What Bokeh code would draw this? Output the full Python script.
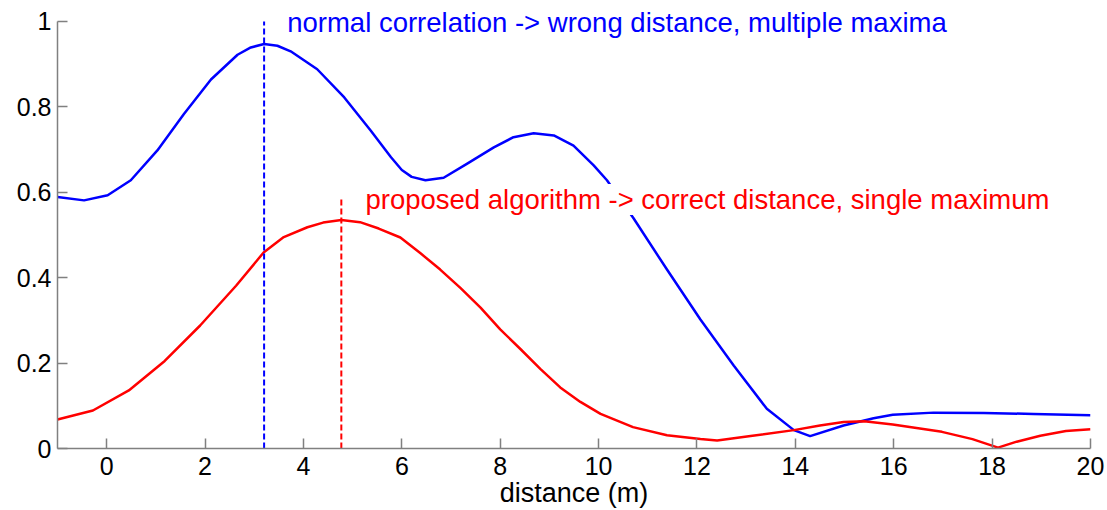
from bokeh.plotting import figure
from bokeh.embed import file_html
from bokeh.resources import INLINE
from bokeh.models import Label, FixedTicker, NumeralTickFormatter, Range1d

# Blue: normal correlation
blue_x = [-1.0, -0.46, 0.02, 0.49, 1.03, 1.57, 2.12, 2.66, 2.93, 3.2, 3.47, 3.74, 4.28,
          4.83, 5.37, 5.78, 6.0, 6.2, 6.48, 6.85, 7.33, 7.87, 8.27, 8.68, 9.09, 9.49, 9.9,
          10.17, 10.71, 11.39, 12.07, 12.75, 13.42, 13.97, 14.3, 14.98, 15.59, 15.98,
          16.81, 17.83, 18.84, 20.0]
blue_y = [0.589, 0.581, 0.593, 0.628, 0.698, 0.783, 0.864, 0.922, 0.939, 0.947, 0.943,
          0.930, 0.888, 0.822, 0.744, 0.682, 0.652, 0.636, 0.628, 0.634, 0.667, 0.705,
          0.729, 0.738, 0.733, 0.709, 0.663, 0.628, 0.539, 0.419, 0.302, 0.194, 0.093,
          0.043, 0.029, 0.054, 0.071, 0.079, 0.084, 0.083, 0.081, 0.078]

# Red: proposed algorithm
red_x = [-1.0, -0.28, 0.45, 1.18, 1.9, 2.63, 3.19, 3.6, 4.08, 4.4, 4.77, 5.15, 5.53,
         5.97, 6.38, 6.78, 7.19, 7.6, 8.0, 8.41, 8.82, 9.22, 9.63, 10.04, 10.7, 11.39,
         12.07, 12.41, 13.09, 13.97, 14.5, 14.98, 15.4, 15.98, 16.98, 17.6, 18.12, 18.5,
         18.98, 19.5, 20.0]
red_y = [0.068, 0.089, 0.136, 0.205, 0.288, 0.381, 0.459, 0.495, 0.518, 0.529, 0.535,
         0.530, 0.515, 0.494, 0.457, 0.419, 0.376, 0.330, 0.279, 0.233, 0.186, 0.143,
         0.109, 0.081, 0.050, 0.031, 0.022, 0.019, 0.029, 0.043, 0.054, 0.062, 0.064,
         0.056, 0.039, 0.022, 0.002, 0.016, 0.030, 0.041, 0.045]

# Maxima markers
blue_peak_x = 3.2
blue_peak_top = 1.0
red_peak_x = 4.77
red_peak_top = 0.585

x_ticks = [0, 2, 4, 6, 8, 10, 12, 14, 16, 18, 20]
y_ticks = [0, 0.2, 0.4, 0.6, 0.8, 1.0]

blue_text = "normal correlation -> wrong distance, multiple maxima"
red_text = "proposed algorithm -> correct distance, single maximum"
x_label = "distance (m)"

FONT = "Liberation Sans"
BLUE = "#0000FF"
RED = "#FF0000"
AXIS = "#808080"

p = figure(width=1107, height=510, output_backend="svg", toolbar_location=None,
           x_range=Range1d(-1, 20), y_range=Range1d(0, 1.0443),
           min_border_left=57, min_border_right=17, min_border_top=2, min_border_bottom=60)
p.outline_line_color = None
p.xgrid.visible = False
p.ygrid.visible = False
p.background_fill_color = "white"

p.line(blue_x, blue_y, line_color=BLUE, line_width=2.5, line_join="round")
p.line(red_x, red_y, line_color=RED, line_width=2.5, line_join="round")

p.segment(x0=[blue_peak_x], y0=[0], x1=[blue_peak_x], y1=[blue_peak_top],
          line_color=BLUE, line_width=2, line_dash="6 3")
p.segment(x0=[red_peak_x], y0=[0], x1=[red_peak_x], y1=[red_peak_top],
          line_color=RED, line_width=2, line_dash="6 3")

p.add_layout(Label(x=3.67, y=0.997, text=blue_text, text_color=BLUE,
                   text_font=FONT, text_font_size="27.5px", text_baseline="alphabetic"))
p.add_layout(Label(x=5.26, y=0.583, text=red_text, text_color=RED,
                   text_font=FONT, text_font_size="27.5px", text_baseline="alphabetic",
                   background_fill_color="white"))

for ax in (p.xaxis[0], p.yaxis[0]):
    ax.axis_line_color = AXIS
    ax.axis_line_width = 1.5
    ax.major_tick_line_color = AXIS
    ax.major_tick_line_width = 1.5
    ax.major_tick_in = 10
    ax.major_tick_out = 0
    ax.minor_tick_line_color = None
    ax.major_label_text_font = FONT
    ax.major_label_text_font_size = "25px"
    ax.major_label_text_color = "black"

p.yaxis.bounds = (0, 1)
p.xaxis.major_label_standoff = 8
p.yaxis.major_label_standoff = 6
p.xaxis.ticker = FixedTicker(ticks=x_ticks)
p.yaxis.ticker = FixedTicker(ticks=y_ticks)
p.yaxis.formatter = NumeralTickFormatter(format="0.[0]")
p.xaxis.axis_label = x_label
p.xaxis.axis_label_text_font = FONT
p.xaxis.axis_label_text_font_size = "27px"
p.xaxis.axis_label_text_font_style = "normal"
p.xaxis.axis_label_text_color = "black"
p.xaxis.axis_label_standoff = 0

open("out.html", "w").write(file_html(p, INLINE))
